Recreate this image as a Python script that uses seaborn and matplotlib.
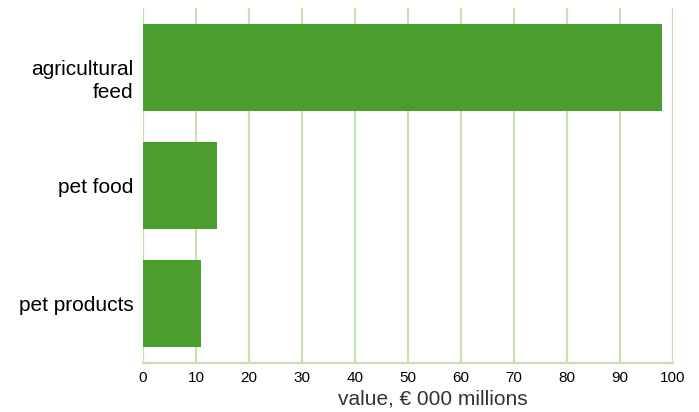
import matplotlib
matplotlib.use("Agg")
import matplotlib.pyplot as plt
import matplotlib.transforms as mtransforms
import seaborn as sns
import pandas as pd

categories = ["agricultural\nfeed", "pet food", "pet products"]
values = [98, 14, 11]
xticks = [0, 10, 20, 30, 40, 50, 60, 70, 80, 90, 100]

sns.set_theme(style="white")
plt.rcParams["font.family"] = ["Liberation Sans", "DejaVu Sans"]

df = pd.DataFrame({"category": categories, "value": values})

fig = plt.figure(figsize=(6.99, 4.12), dpi=100)
ax = fig.add_axes([0.2046, 0.1189, 0.7582, 0.8617])

grid_color = "#c8e0b4"
for x in xticks:
    ax.axvline(x, color=grid_color, lw=1.6, zorder=0)

sns.barplot(data=df, y="category", x="value", color="#4a9e2e", saturation=1,
            width=0.735, ax=ax, zorder=2, linewidth=0)

ax.set_xlim(0, 100)
ax.set_ylim(2.5, -0.5)
ax.set_xticks(xticks)
ax.set_xticklabels([str(x) for x in xticks])
ax.tick_params(axis="x", length=0, labelsize=11, colors="black", pad=6)
ax.tick_params(axis="y", length=0, labelsize=15, colors="black", pad=7)
for s in ["top", "right", "left"]:
    ax.spines[s].set_visible(False)
ax.spines["bottom"].set_color(grid_color)
ax.spines["bottom"].set_linewidth(1.6)
ax.set_ylabel("")
ax.set_xlabel("value, € 000 millions", fontsize=15, color="#333333")
ax.xaxis.set_label_coords(0.547, -0.075)

fig.canvas.draw()
first = ax.get_yticklabels()[0]
first.set_linespacing(1.25)
first.set_transform(first.get_transform() +
                    mtransforms.ScaledTranslation(0, -0.10, fig.dpi_scale_trans))

fig.savefig("out.png", dpi=100)
